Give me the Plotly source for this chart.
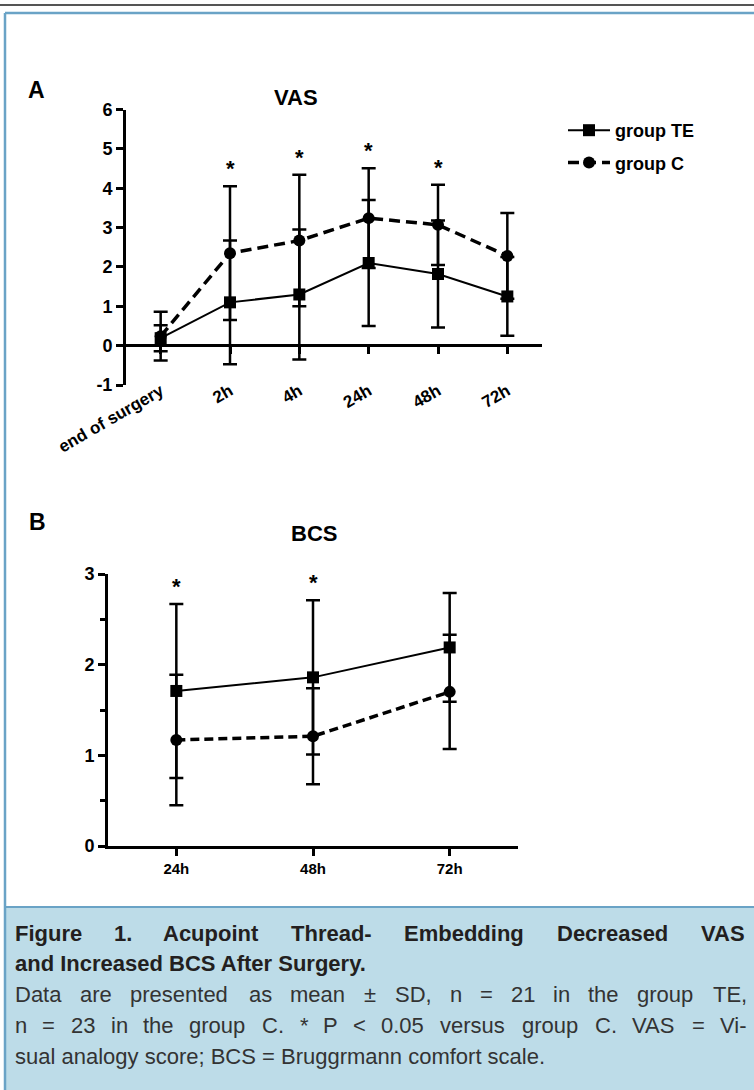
import plotly.graph_objects as go

# ---------------- data ----------------
vas_times = ["end of surgery", "2h", "4h", "24h", "48h", "72h"]
vas_te_mean = [0.19, 1.10, 1.30, 2.10, 1.82, 1.25]
vas_te_sd = [0.33, 1.57, 1.65, 1.60, 1.36, 1.00]
vas_c_mean = [0.24, 2.35, 2.67, 3.24, 3.07, 2.28]
vas_c_sd = [0.62, 1.70, 1.67, 1.27, 1.02, 1.09]
vas_sig = [False, True, True, True, True, False]
vas_yticks = [-1, 0, 1, 2, 3, 4, 5, 6]

bcs_times = ["24h", "48h", "72h"]
bcs_te_mean = [1.71, 1.86, 2.19]
bcs_te_sd = [0.96, 0.85, 0.60]
bcs_c_mean = [1.17, 1.21, 1.70]
bcs_c_sd = [0.72, 0.53, 0.63]
bcs_sig = [True, True, False]
bcs_yticks = [0, 1, 2, 3]
bcs_minor = [0.5, 1.5, 2.5]

# caption lines: (text, bold, justified)
caption_lines = [
    ("Figure 1. Acupoint Thread- Embedding Decreased VAS", True, True),
    ("and Increased BCS After Surgery.", True, False),
    ("Data are presented as mean ± SD, n = 21 in the group TE,", False, True),
    ("n = 23 in the group C. * P < 0.05 versus group C. VAS = Vi-", False, True),
    ("sual analogy score; BCS = Bruggrmann comfort scale.", False, False),
]

W, H = 754, 1090
FONT = "Liberation Sans, Arial, sans-serif"
CAP_SIZE = 22

# Arial-compatible advance widths (1/1000 em) used to justify caption lines
_REG = dict(zip(" abcdefghijklmnopqrstuvwxyz",
                [278, 556, 556, 500, 556, 556, 278, 556, 556, 222, 222, 500, 222, 833,
                 556, 556, 556, 556, 333, 500, 278, 556, 500, 722, 500, 500, 500]))
_REG.update(dict(zip("ABCDEFGHIJKLMNOPQRSTUVWXYZ",
                     [667, 667, 722, 722, 667, 611, 778, 722, 278, 500, 667, 556, 833,
                      722, 778, 667, 778, 722, 667, 611, 722, 667, 944, 667, 667, 611])))
_REG.update({c: 556 for c in "0123456789"})
_REG.update({".": 278, ",": 278, "-": 333, "=": 584, "±": 584, "*": 389, "<": 584, ";": 278})
_BOLD = dict(zip(" abcdefghijklmnopqrstuvwxyz",
                 [278, 556, 611, 556, 611, 556, 333, 611, 611, 278, 278, 556, 278, 889,
                  611, 611, 611, 611, 389, 556, 333, 611, 556, 778, 556, 556, 500]))
_BOLD.update(dict(zip("ABCDEFGHIJKLMNOPQRSTUVWXYZ",
                      [722, 722, 722, 722, 667, 611, 778, 722, 278, 556, 722, 611, 833,
                       722, 778, 667, 778, 722, 667, 611, 722, 667, 944, 667, 667, 611])))
_BOLD.update({c: 556 for c in "0123456789"})
_BOLD.update({".": 278, ",": 278, "-": 333, "=": 584, "±": 584, "*": 389, "<": 584, ";": 333})


def text_width(s, bold, size):
    table = _BOLD if bold else _REG
    return sum(table.get(ch, 556) for ch in s) * size / 1000.0


def esc(s):
    return s.replace("&", "&amp;").replace("<", "&lt;").replace(">", "&gt;")


def px(x):
    return x / W


def py(y):
    return 1 - y / H


fig = go.Figure()

vas_x = list(range(len(vas_times)))
bcs_x = list(range(len(bcs_times)))

err_style = dict(thickness=2.5, width=7, color="black")

# panel A
fig.add_trace(go.Scatter(
    x=vas_x, y=vas_te_mean, name="group TE", mode="lines+markers", legendgroup="te",
    line=dict(color="black", width=2),
    marker=dict(symbol="square", size=12, color="black"),
    error_y=dict(type="data", array=vas_te_sd, visible=True, **err_style),
    xaxis="x", yaxis="y", cliponaxis=False))
fig.add_trace(go.Scatter(
    x=vas_x, y=vas_c_mean, name="group C", mode="lines+markers", legendgroup="c",
    line=dict(color="black", width=3.5, dash="11px,6px"),
    marker=dict(symbol="circle", size=12, color="black"),
    error_y=dict(type="data", array=vas_c_sd, visible=True, **err_style),
    xaxis="x", yaxis="y", cliponaxis=False))
# helper (empty) trace for the zero-level x axis of panel A
fig.add_trace(go.Scatter(x=[], y=[], xaxis="x3", yaxis="y", showlegend=False))

# panel B
fig.add_trace(go.Scatter(
    x=bcs_x, y=bcs_te_mean, name="group TE", mode="lines+markers", showlegend=False,
    line=dict(color="black", width=2),
    marker=dict(symbol="square", size=12, color="black"),
    error_y=dict(type="data", array=bcs_te_sd, visible=True, **err_style),
    xaxis="x2", yaxis="y2", cliponaxis=False))
fig.add_trace(go.Scatter(
    x=bcs_x, y=bcs_c_mean, name="group C", mode="lines+markers", showlegend=False,
    line=dict(color="black", width=3.5, dash="9px,5px"),
    marker=dict(symbol="circle", size=12, color="black"),
    error_y=dict(type="data", array=bcs_c_sd, visible=True, **err_style),
    xaxis="x2", yaxis="y2", cliponaxis=False))

annotations = []
# significance stars
for i, s in enumerate(vas_sig):
    if s:
        top = max(vas_te_mean[i] + vas_te_sd[i], vas_c_mean[i] + vas_c_sd[i])
        annotations.append(dict(x=i, y=top, xref="x", yref="y", text="<b>*</b>",
                                showarrow=False, yanchor="bottom", yshift=3,
                                font=dict(size=22, family=FONT, color="black")))
for i, s in enumerate(bcs_sig):
    if s:
        top = max(bcs_te_mean[i] + bcs_te_sd[i], bcs_c_mean[i] + bcs_c_sd[i])
        annotations.append(dict(x=i, y=top, xref="x2", yref="y2", text="<b>*</b>",
                                showarrow=False, yanchor="bottom", yshift=3,
                                font=dict(size=22, family=FONT, color="black")))

# panel labels and titles
for txt, x, y, size in [("A", 36, 90, 23), ("VAS", 296, 98, 22),
                        ("B", 37, 522, 23), ("BCS", 314, 533, 22)]:
    annotations.append(dict(x=px(x), y=py(y), xref="paper", yref="paper",
                            text=f"<b>{txt}</b>", showarrow=False,
                            xanchor="center", yanchor="middle",
                            font=dict(size=size, family=FONT, color="black")))

# caption (justified lines are laid out word by word)
cap_left, cap_right = 14, 747
cap_y = [933, 963, 994, 1025, 1056]
for (txt, bold, just), y in zip(caption_lines, cap_y):
    color = "#231f20" if bold else "#333333"
    words = txt.split(" ")
    if just:
        widths = [text_width(w, bold, CAP_SIZE) * 1.03 for w in words]
        gap = (cap_right - cap_left - sum(widths)) / (len(words) - 1)
        xs = []
        cur = cap_left
        for w in widths:
            xs.append(cur)
            cur += w + gap
        pieces = list(zip(words, xs))
    else:
        pieces = [(txt, cap_left)]
    for word, x in pieces:
        t = esc(word)
        if bold:
            t = f"<b>{t}</b>"
        annotations.append(dict(x=px(x), y=py(y), xref="paper", yref="paper",
                                text=t, showarrow=False, xanchor="left",
                                yanchor="middle", borderpad=0,
                                font=dict(size=CAP_SIZE, family=FONT, color=color)))

blue = "#6aa3c6"
shapes = [
    dict(type="rect", xref="paper", yref="paper", x0=px(5), x1=1.02, y0=-0.02, y1=py(907),
         fillcolor="#bddce8", line=dict(width=0), layer="below"),
    dict(type="line", xref="paper", yref="paper", x0=px(5), x1=1.0, y0=py(907), y1=py(907),
         line=dict(color=blue, width=2), layer="below"),
    dict(type="line", xref="paper", yref="paper", x0=0, x1=1.0, y0=py(5), y1=py(5),
         line=dict(color="#555555", width=2), layer="below"),
    dict(type="line", xref="paper", yref="paper", x0=px(5), x1=1.0, y0=py(13), y1=py(13),
         line=dict(color=blue, width=2.5), layer="below"),
    dict(type="line", xref="paper", yref="paper", x0=px(5), x1=px(5), y0=0, y1=py(13),
         line=dict(color=blue, width=2.5), layer="below"),
]

tickfont_xa = dict(size=17, family=FONT, color="black", weight="bold")
tickfont_xb = dict(size=15, family=FONT, color="black", weight="bold")
tickfont_y = dict(size=18, family=FONT, color="black", weight="bold")
common_axis = dict(automargin=False, showgrid=False, zeroline=False, fixedrange=True)

fig.update_layout(
    template="none",
    width=W, height=H, autosize=False,
    margin=dict(l=0, r=0, t=0, b=0, pad=0, autoexpand=False),
    paper_bgcolor="white", plot_bgcolor="rgba(0,0,0,0)",
    font=dict(family=FONT, color="black"),
    showlegend=True,
    legend=dict(x=px(563), y=py(112), xanchor="left", yanchor="top",
                bgcolor="rgba(0,0,0,0)", borderwidth=0,
                font=dict(size=18, family=FONT, color="black", weight="bold"),
                tracegroupgap=6, itemwidth=42),
    annotations=annotations,
    shapes=shapes,
    xaxis=dict(domain=[px(126), px(542)], range=[-0.5, 5.5], anchor="free",
               position=py(377),
               tickvals=vas_x, ticktext=vas_times, tickangle=-30,
               showline=False, ticks="", tickfont=tickfont_xa, **common_axis),
    xaxis3=dict(domain=[px(126), px(542)], range=[-0.5, 5.5], overlaying="x",
                anchor="free", position=py(345), side="bottom",
                tickvals=vas_x, showticklabels=False,
                showline=True, linewidth=3, linecolor="black",
                ticks="outside", ticklen=7, tickwidth=3, tickcolor="black",
                **common_axis),
    yaxis=dict(domain=[py(385), py(109.5)], range=[-1, 6], anchor="x",
               tickvals=vas_yticks, ticktext=[str(v) for v in vas_yticks],
               showline=True, linewidth=3, linecolor="black",
               ticks="outside", ticklen=7, tickwidth=3, tickcolor="black",
               tickfont=tickfont_y, **common_axis),
    xaxis2=dict(domain=[px(108), px(518)], range=[-0.5, 2.5], anchor="y2",
                tickvals=bcs_x, ticktext=bcs_times,
                showline=True, linewidth=3, linecolor="black",
                ticks="outside", ticklen=7, tickwidth=3, tickcolor="black",
                tickfont=tickfont_xb, **common_axis),
    yaxis2=dict(domain=[py(846), py(574)], range=[0, 3], anchor="x2",
                tickvals=bcs_yticks, ticktext=[str(v) for v in bcs_yticks],
                showline=True, linewidth=3, linecolor="black",
                ticks="outside", ticklen=7, tickwidth=3, tickcolor="black",
                minor=dict(tickvals=bcs_minor, ticks="outside", ticklen=5,
                           tickwidth=3, tickcolor="black"),
                tickfont=tickfont_y, **common_axis),
)

fig.write_html(
    "out.html",
    config={"displayModeBar": False},
    post_script="document.body.style.margin='0';document.body.style.overflow='hidden';",
)
